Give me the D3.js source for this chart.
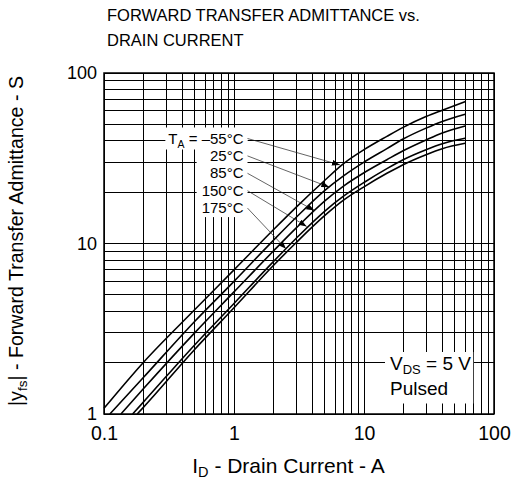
<!DOCTYPE html>
<html>
<head>
<meta charset="utf-8">
<script src="https://cdn.jsdelivr.net/npm/d3@7"></script>
<style>
body { margin: 0; background: #fff; }
text { font-family: "Liberation Sans", Arial, Helvetica, sans-serif; fill: #000; }
</style>
</head>
<body>
<div class="chart-area"></div>
<script>
// drain current (A) shared by all curves, after each curve's first point
const current = [0.2, 0.5, 1, 2, 3, 5, 7, 10, 15, 20, 30, 40, 60];
// first point of each curve (where it enters the frame)
const startCurrent = [0.1, 0.111, 0.135, 0.166, 0.18];
const startYfs = [1.08, 1, 1, 1, 1];
// |yfs| in S, one array per temperature
const yfsM55 = [2.0, 4.1, 7.0, 12, 16.3, 23.5, 29.5, 35.5, 42.5, 48, 55.5, 60.5, 68];
const yfs25 = [1.63, 3.5, 6.0, 10.4, 14.2, 20.5, 25, 30, 36, 41, 47.5, 52, 57.3];
const yfs85 = [1.4, 3.0, 5.2, 9.0, 12.3, 17.8, 21.8, 26, 31, 35, 40.5, 44.5, 48.9];
const yfs150 = [1.17, 2.55, 4.45, 7.8, 10.7, 15.5, 19, 22.8, 27.5, 31, 35.5, 38.5, 41.4];
const yfs175 = [1.09, 2.4, 4.2, 7.4, 10.1, 14.6, 18, 21.5, 25.8, 29, 33.2, 36, 38.7];
const tempLabels = ["–55°C", "25°C", "85°C", "150°C", "175°C"];
// where each label's leader arrow touches its curve
const arrowCurrent = [6.53, 5.41, 4.15, 3.62, 2.51];
const arrowYfs = [28.9, 21.4, 15.6, 12.6, 9.3];
const xTicks = [0.1, 1, 10, 100];
const yTicks = [1, 10, 100];

let outerWidth = 516, outerHeight = 499;
let margin = {top: 73, right: 22, bottom: 85, left: 104};
let width = outerWidth - margin.left - margin.right, height = outerHeight - margin.top - margin.bottom;

let root = d3.select('.chart-area').append('svg')
    .attr('width', outerWidth)
    .attr('height', outerHeight);
let svg = root.append("g")
    .attr("transform", "translate(" + margin.left + "," + margin.top + ")");

let xScale = d3.scaleLog().domain([0.1, 100]).range([0, width]);
let yScale = d3.scaleLog().domain([1, 100]).range([height, 0]);

// title
root.append("text").attr("x", 107).attr("y", 21).attr("font-size", 16.5).text("FORWARD TRANSFER ADMITTANCE vs.");
root.append("text").attr("x", 107).attr("y", 45.7).attr("font-size", 16.5).text("DRAIN CURRENT");

// grid
svg.append("g").selectAll("line.vx")
    .data(xScale.ticks())
    .enter().append("line")
    .attr("x1", d => xScale(d)).attr("x2", d => xScale(d))
    .attr("y1", 0).attr("y2", height)
    .attr("stroke", "#000").attr("stroke-width", 1)
    .attr("shape-rendering", "crispEdges");
svg.append("g").selectAll("line.hy")
    .data(yScale.ticks())
    .enter().append("line")
    .attr("y1", d => yScale(d)).attr("y2", d => yScale(d))
    .attr("x1", 0).attr("x2", width)
    .attr("stroke", "#000").attr("stroke-width", 1)
    .attr("shape-rendering", "crispEdges");

// axes (labels only)
let xAxis = d3.axisBottom(xScale).tickValues(xTicks).tickSize(0).tickPadding(12).tickFormat(d => String(d));
let yAxis = d3.axisLeft(yScale).tickValues(yTicks).tickSize(0).tickPadding(7).tickFormat(d => String(d));
let xaxis = svg.append("g").attr("transform", `translate(0, ${height})`).call(xAxis);
let yaxis = svg.append("g").call(yAxis);
xaxis.select(".domain").remove();
yaxis.select(".domain").remove();
xaxis.selectAll("text").attr("font-size", 19.5).attr("font-family", null).attr("fill", "#000");
yaxis.selectAll("text").attr("font-size", 18).attr("font-family", null).attr("fill", "#000");

// frame
svg.append("rect").attr("width", width).attr("height", height)
    .attr("fill", "none").attr("stroke", "#000").attr("stroke-width", 1.5);

// temperature labels with white box behind them
let boxLayer = svg.append("g");
let labelLayer = svg.append("g");
let labelRight = 139.5, firstBase = 70.5, rowStep = 17.4;
let labels = labelLayer.selectAll("text")
    .data(tempLabels)
    .enter().append("text")
    .attr("x", labelRight)
    .attr("y", (d, i) => firstBase + i * rowStep)
    .attr("text-anchor", "end")
    .attr("font-size", 15);
labels.each(function(d, i) {
    const t = d3.select(this);
    if (i === 0) {
        t.append("tspan").text("T");
        t.append("tspan").attr("font-size", 10.5).attr("dy", 4).text("A");
        t.append("tspan").attr("dy", -4).text(" = " + d);
    } else {
        t.text(d);
    }
});
let bb = labels.nodes().map(n => n.getBBox());
boxLayer.append("rect")
    .attr("x", bb[0].x - 3).attr("y", bb[0].y - 2)
    .attr("width", bb[0].width + 7).attr("height", bb[0].height + 2)
    .attr("fill", "#fff");
let lowX = d3.min(bb.slice(1), b => b.x) - 5;
boxLayer.append("rect")
    .attr("x", lowX).attr("y", bb[1].y - 2)
    .attr("width", labelRight + 4 - lowX)
    .attr("height", bb[4].y + bb[4].height + 1 - bb[1].y + 2)
    .attr("fill", "#fff");

// curves
const seriesYfs = [yfsM55, yfs25, yfs85, yfs150, yfs175];
const series = seriesYfs.map((ys, i) =>
    [{x: startCurrent[i], y: startYfs[i]}].concat(current.map((c, j) => ({x: c, y: ys[j]}))));
const line = d3.line()
    .x(d => xScale(d.x))
    .y(d => yScale(d.y))
    .curve(d3.curveMonotoneX);
svg.append("g").selectAll("path")
    .data(series)
    .enter().append("path")
    .attr("fill", "none")
    .attr("stroke", "#000")
    .attr("stroke-width", 1.6)
    .attr("d", line);

// leader arrows
root.append("defs").append("marker")
    .attr("id", "arr")
    .attr("markerUnits", "userSpaceOnUse")
    .attr("viewBox", "0 0 8 6")
    .attr("refX", 8).attr("refY", 3)
    .attr("markerWidth", 8).attr("markerHeight", 6)
    .attr("orient", "auto")
    .append("path").attr("d", "M0,0L8,3L0,6Z").attr("fill", "#000");
svg.append("g").selectAll("line")
    .data(tempLabels)
    .enter().append("line")
    .attr("x1", labelRight + 4)
    .attr("y1", (d, i) => firstBase + i * rowStep - 5)
    .attr("x2", (d, i) => xScale(arrowCurrent[i]))
    .attr("y2", (d, i) => yScale(arrowYfs[i]))
    .attr("stroke", "#222")
    .attr("stroke-width", 0.7)
    .attr("marker-end", "url(#arr)");

// test condition note
let note = svg.append("g");
let noteBox = note.append("rect").attr("fill", "#fff");
let v = note.append("text").attr("x", 286).attr("y", 297).attr("font-size", 19);
v.append("tspan").text("V");
v.append("tspan").attr("font-size", 13).attr("dy", 4).text("DS");
v.append("tspan").attr("dy", -4).text(" = 5 V");
note.append("text").attr("x", 286).attr("y", 321.5).attr("font-size", 19).text("Pulsed");
let nb = note.node().getBBox();
noteBox.attr("x", nb.x - 5).attr("y", nb.y - 1).attr("width", nb.width + 7).attr("height", nb.height + 6);

// axis titles
let yt = root.append("text")
    .attr("transform", "translate(23,241) rotate(-90)")
    .attr("text-anchor", "middle")
    .attr("font-size", 19.6);
yt.append("tspan").text("|y");
yt.append("tspan").attr("font-size", 13.5).attr("dy", 4).text("fs");
yt.append("tspan").attr("dy", -4).text("| - Forward Transfer Admittance - S");

let xt = root.append("text")
    .attr("x", 288.5).attr("y", 473)
    .attr("text-anchor", "middle")
    .attr("font-size", 21);
xt.append("tspan").text("I");
xt.append("tspan").attr("font-size", 14.5).attr("dy", 4).text("D");
xt.append("tspan").attr("dy", -4).text(" - Drain Current - A");
</script>
</body>
</html>
